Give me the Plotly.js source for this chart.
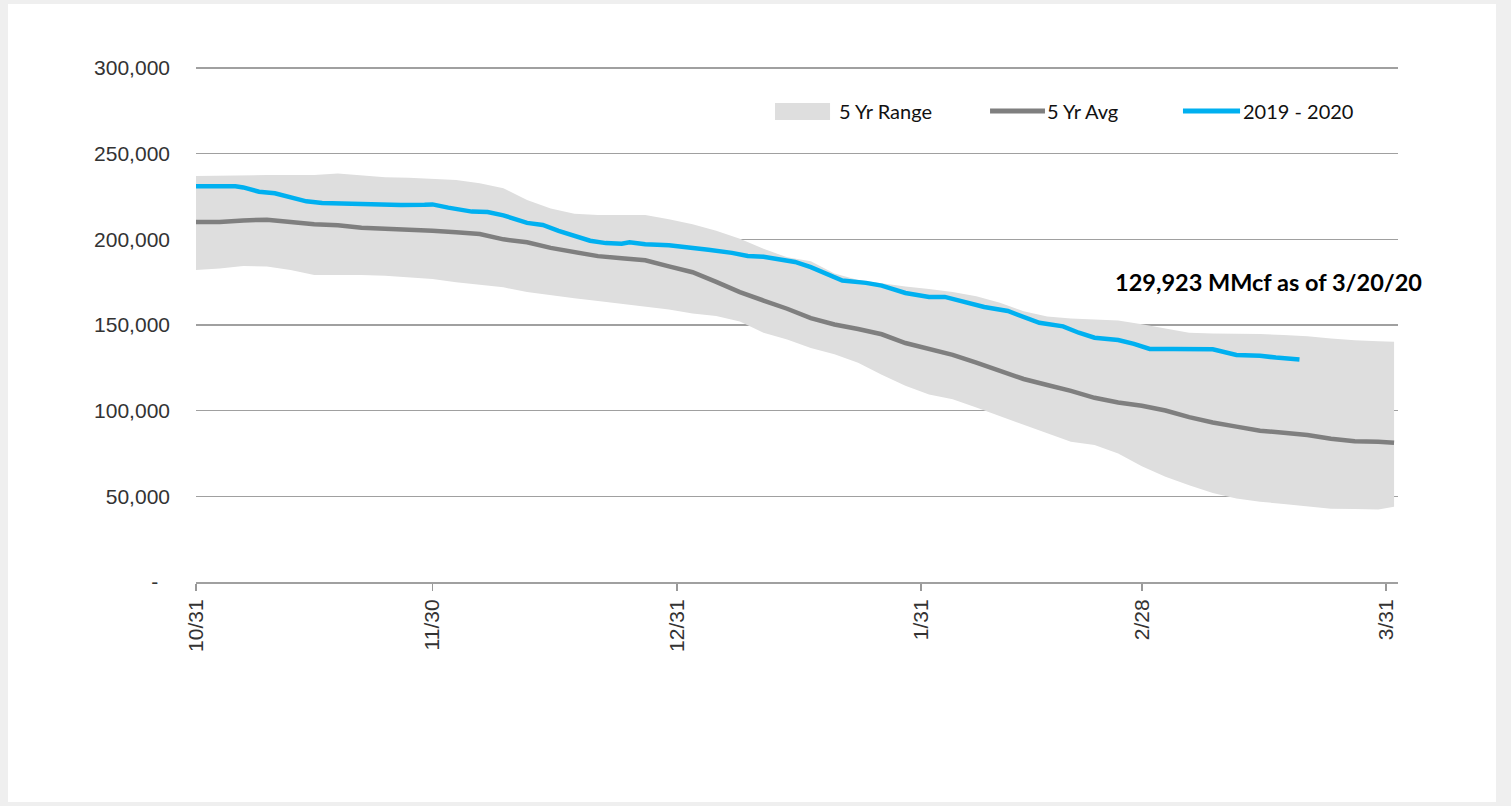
<!DOCTYPE html>
<html>
<head>
<meta charset="utf-8">
<script src="https://cdn.plot.ly/plotly-3.0.1.min.js"></script>
<style>
  html, body { margin: 0; padding: 0; background: #efefef; width: 1511px; height: 806px; overflow: hidden; }
  #chart { position: absolute; left: 8px; top: 4px; width: 1488px; height: 798px; background: #ffffff; }
</style>
</head>
<body>
<div id="chart"></div>
<script>
// Day index counted from 10/31 (0) to 3/31 (151)
const tickDays = [0, 30, 61, 92, 120, 151];
const tickLabels = ["10/31", "11/30", "12/31", "1/31", "2/28", "3/31"];

const yTickVals = [0, 50000, 100000, 150000, 200000, 250000, 300000];
const yTickLabels = ["-\u00a0\u00a0", "50,000", "100,000", "150,000", "200,000", "250,000", "300,000"];

// 5-year range / average (MMcf)
const fiveYrDays = [0, 3, 6, 9, 12, 15, 18, 21, 24, 27, 30, 33, 36, 39, 42, 45, 48, 51, 54, 57, 60, 63, 66, 69, 72, 75, 78, 81, 84, 87, 90, 93, 96, 99, 102, 105, 108, 111, 114, 117, 120, 123, 126, 129, 132, 135, 138, 141, 144, 147, 150, 152];
const rangeHigh = [237000, 237300, 237500, 237500, 237500, 237500, 238500, 237600, 236300, 235900, 235300, 234600, 232700, 229800, 223000, 218000, 215000, 214200, 214200, 214200, 211800, 208800, 205000, 200400, 194500, 189500, 187200, 180000, 176300, 174200, 172500, 171000, 169300, 166800, 163000, 158000, 154900, 153800, 153300, 152700, 150500, 148000, 145500, 145100, 145100, 144800, 144100, 143400, 142200, 141100, 140500, 140200];
const rangeLow = [182100, 183000, 184400, 184200, 182100, 179200, 179200, 179200, 178700, 177800, 176800, 175000, 173500, 172000, 169200, 167200, 165600, 164000, 162300, 160500, 159000, 156700, 155200, 152000, 145500, 141500, 136600, 133000, 128000, 121000, 114500, 109500, 106700, 101800, 96800, 91500, 86800, 81800, 80000, 75000, 67500, 61500, 56500, 52000, 48800, 46800, 45600, 44000, 42700, 42600, 42300, 43900];
const fiveYrAvg = [210100, 210100, 211000, 211500, 210100, 208800, 208200, 206800, 206200, 205800, 205000, 204200, 203100, 200000, 198300, 195000, 192500, 190200, 189000, 187800, 184200, 180800, 175200, 169200, 164300, 159500, 154000, 150300, 147700, 144600, 139500, 136300, 132600, 128000, 123100, 118500, 115000, 111600, 107500, 104800, 102900, 100100, 96200, 93100, 90700, 88300, 87100, 85800, 83600, 82100, 81900, 81300];

// 2019 - 2020 storage (MMcf)
const curDays = [0, 3, 5, 6, 8, 10, 12, 14, 16, 18, 20, 23, 26, 29, 30, 32, 35, 37, 39, 42, 44, 46, 48, 50, 52, 54, 55, 57, 60, 63, 65, 68, 70, 72, 74, 76, 78, 80, 82, 85, 87, 90, 93, 95, 98, 100, 103, 105, 107, 110, 112, 114, 117, 119, 121, 124, 129, 132, 135, 137, 140];
const curValues = [231000, 231000, 231000, 230300, 227800, 226900, 224800, 222200, 221200, 221000, 220400, 220000, 220000, 220200, 220400, 218500, 216200, 216000, 214000, 209600, 208400, 205000, 202000, 199200, 197800, 197500, 198300, 197200, 196600, 194600, 193900, 192100, 190300, 189900, 188200, 186800, 183800, 179800, 176000, 174600, 173000, 168700, 166400, 166400, 163000, 160500, 158200, 154800, 151300, 149200, 145500, 142600, 141200, 139000, 136000, 136000, 135800, 132500, 132100, 131000, 129923];

const seriesNames = ["5 Yr Range", "5 Yr Avg", "2019 - 2020"];
const calloutText = "129,923 MMcf as of 3/20/20";

const COL_RANGE = "#dedede";
const COL_AVG = "#7f7f7f";
const COL_CUR = "#00b0f0";

const traces = [
  { x: fiveYrDays, y: rangeLow, mode: "lines", line: { width: 0, color: COL_RANGE }, hoverinfo: "skip", showlegend: false },
  { x: fiveYrDays, y: rangeHigh, mode: "lines", fill: "tonexty", fillcolor: COL_RANGE, line: { width: 0, color: COL_RANGE }, name: seriesNames[0], showlegend: false },
  { x: fiveYrDays, y: fiveYrAvg, mode: "lines", line: { width: 4.5, color: COL_AVG }, name: seriesNames[1], showlegend: false },
  { x: curDays, y: curValues, mode: "lines", line: { width: 4.5, color: COL_CUR }, name: seriesNames[2], showlegend: false }
];

const legendFont = { family: "Lato, 'Open Sans', sans-serif", size: 20, color: "#111" };

const layout = {
  width: 1488, height: 798,
  margin: { l: 188, r: 98, t: 63, b: 220, pad: 0 },
  paper_bgcolor: "#ffffff",
  plot_bgcolor: "#ffffff",
  showlegend: false,
  xaxis: {
    range: [0, 152.5],
    tickmode: "array", tickvals: tickDays, ticktext: tickLabels,
    tickangle: -90,
    ticks: "outside", ticklen: 7, tickcolor: "#999", tickwidth: 1.5,
    showgrid: false, zeroline: false,
    showline: true, linecolor: "#a0a0a0", linewidth: 2,
    tickfont: { family: "'Liberation Sans', Arial, sans-serif", size: 21, color: "#333" },
    fixedrange: true
  },
  yaxis: {
    range: [0, 300600],
    tickmode: "array", tickvals: yTickVals, ticktext: yTickLabels,
    ticks: "", showgrid: true, gridcolor: "#a0a0a0", gridwidth: 1.3,
    zeroline: false, showline: false,
    ticklabelstandoff: 25,
    tickfont: { family: "'Liberation Sans', Arial, sans-serif", size: 21, color: "#333" },
    fixedrange: true
  },
  shapes: [
    { type: "rect", xref: "paper", yref: "paper", x0: 0.4817, x1: 0.5275, y0: 0.897, y1: 0.930, fillcolor: COL_RANGE, line: { width: 0 } },
    { type: "line", xref: "paper", yref: "paper", x0: 0.6606, x1: 0.7063, y0: 0.9144, y1: 0.9144, line: { color: COL_AVG, width: 5 } },
    { type: "line", xref: "paper", yref: "paper", x0: 0.8211, x1: 0.8686, y0: 0.9144, y1: 0.9144, line: { color: COL_CUR, width: 5 } }
  ],
  annotations: [
    { xref: "paper", yref: "paper", x: 0.5335, y: 0.9144, xanchor: "left", yanchor: "middle", text: seriesNames[0], showarrow: false, font: legendFont },
    { xref: "paper", yref: "paper", x: 0.7066, y: 0.9144, xanchor: "left", yanchor: "middle", text: seriesNames[1], showarrow: false, font: legendFont },
    { xref: "paper", yref: "paper", x: 0.8690, y: 0.9144, xanchor: "left", yanchor: "middle", text: seriesNames[2], showarrow: false, font: legendFont },
    { xref: "paper", yref: "paper", x: 0.7630, y: 0.5817, xanchor: "left", yanchor: "middle", text: "<b>" + calloutText + "</b>", showarrow: false,
      font: { family: "Lato, 'Open Sans', sans-serif", size: 23.5, color: "#000" } }
  ]
};

Plotly.newPlot("chart", traces, layout, { displayModeBar: false, staticPlot: true });
</script>
</body>
</html>
